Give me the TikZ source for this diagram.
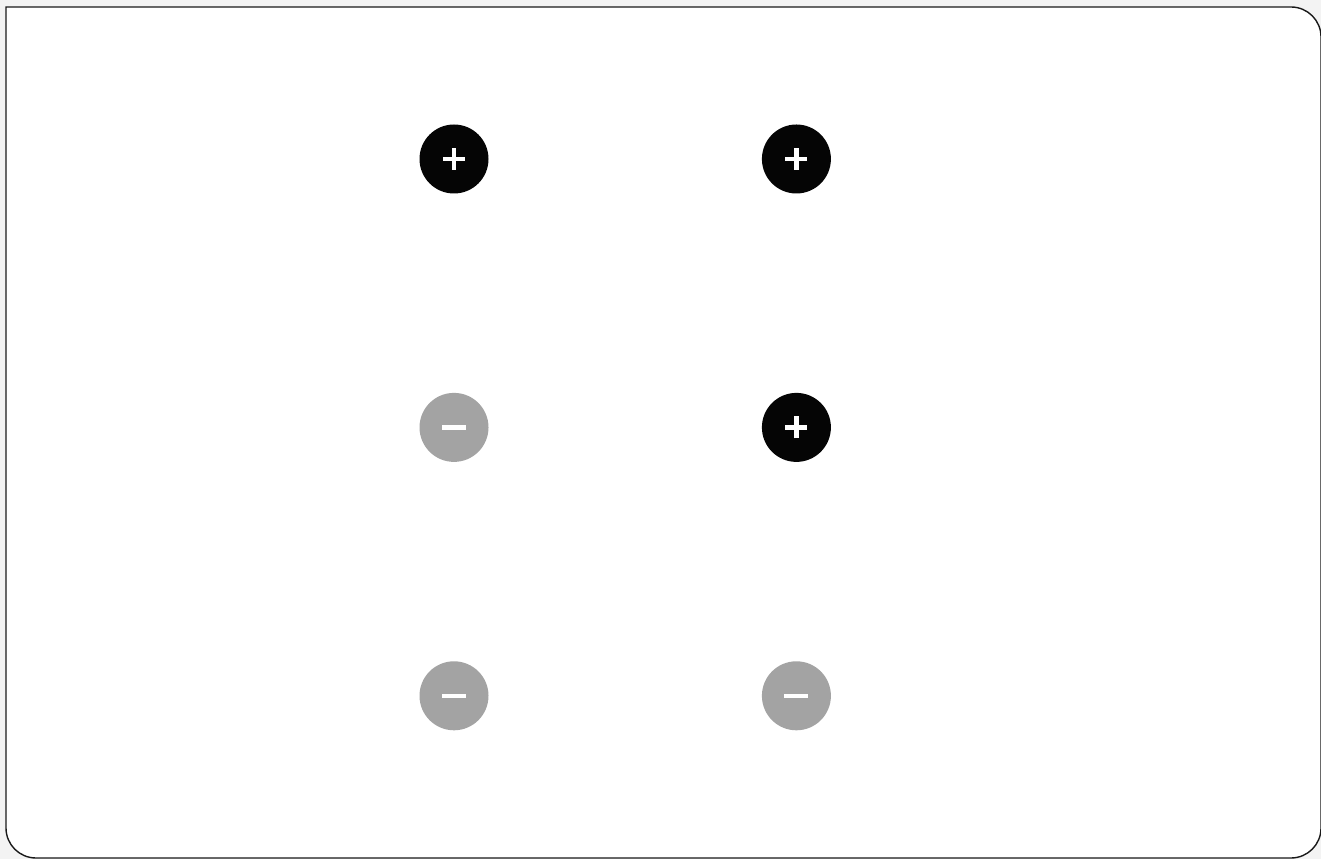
\documentclass[tikz,border=0pt]{standalone}
\usetikzlibrary{positioning}
\definecolor{colOn}{HTML}{050505}
\definecolor{colOff}{HTML}{A3A3A3}
\definecolor{colPage}{HTML}{F3F3F3}
\tikzset{
  onsign/.style={circle,fill=colOn,minimum size=69pt,inner sep=0pt,text=white},
  offsign/.style={circle,fill=colOff,minimum size=69pt,inner sep=0pt,text=white},
  cardframe/.style={draw=black!90,line width=1.4pt,fill=white},
}
\newcommand{\plusmark}{\makebox[22pt]{\rule[-2.25pt]{22pt}{4.5pt}\hspace{-13.25pt}\rule[-11pt]{4.5pt}{22pt}\hspace{8.75pt}}}
\newcommand{\minusmark}{\rule[-2pt]{24pt}{4.5pt}}
\begin{document}
\begin{tikzpicture}[x=1pt,y=1pt]
  \useasboundingbox (0,0) rectangle (1321,859);
  \fill[colPage] (0,0) rectangle (1321,859);
  \draw[cardframe] (6,852) -- (1291,852) arc[start angle=90,end angle=0,radius=30]
    -- (1321,31) arc[start angle=0,end angle=-90,radius=30]
    -- (36,1) arc[start angle=270,end angle=180,radius=30] -- cycle;
  % two columns, three rows
  \node[onsign] (tl) at (454,700) {\plusmark};
  \node[onsign,right=273pt of tl] (tr) {\plusmark};
  \node[offsign,below=199pt of tl] (ml) {\minusmark};
  \node[onsign,below=199pt of tr] (mr) {\plusmark};
  \node[offsign,below=199pt of ml] (bl) {\minusmark};
  \node[offsign,below=199pt of mr] (br) {\minusmark};
\end{tikzpicture}
\end{document}
